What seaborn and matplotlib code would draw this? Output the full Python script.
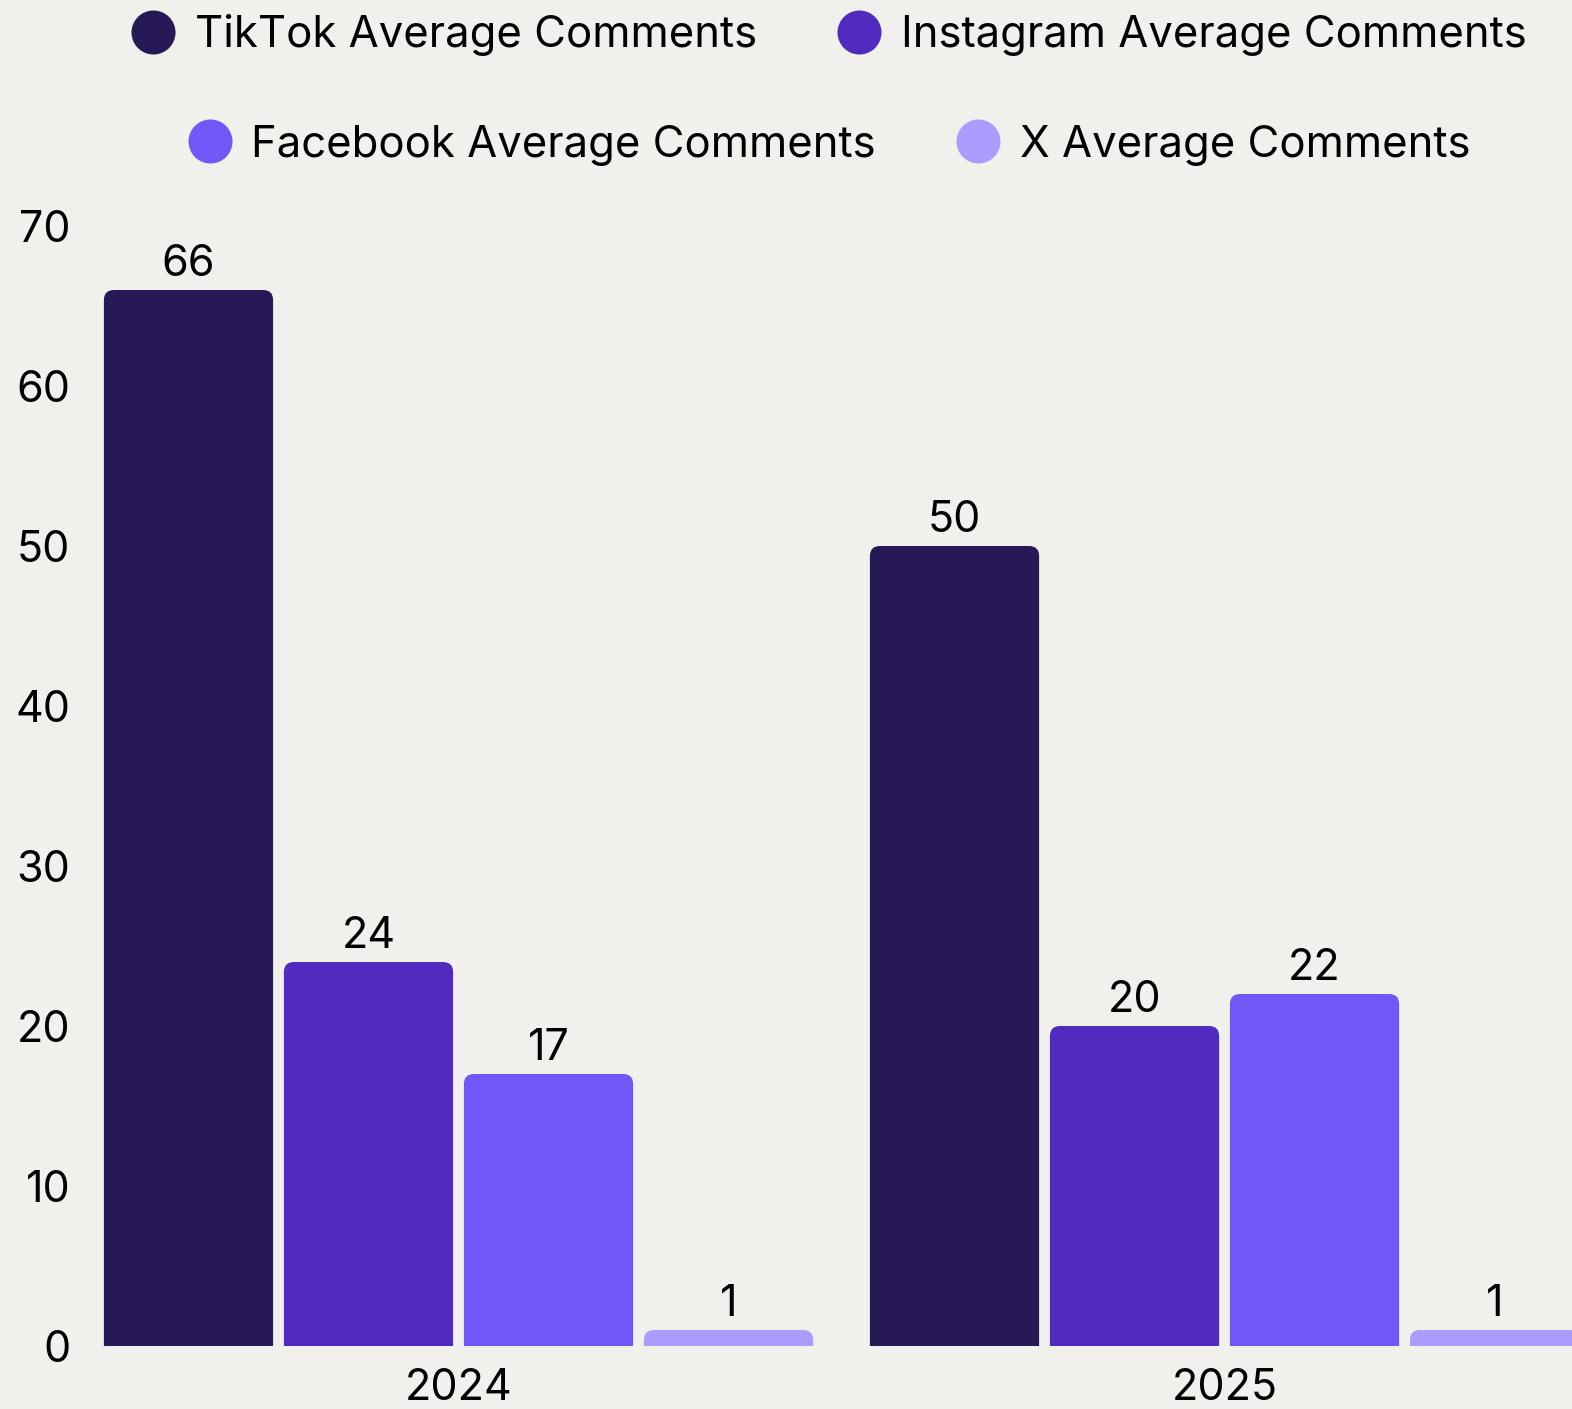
import matplotlib
matplotlib.use("Agg")
import matplotlib.pyplot as plt
import seaborn as sns
import pandas as pd
from matplotlib.path import Path
from matplotlib.patches import PathPatch
from matplotlib.lines import Line2D

# ---- data ----
years = ["2024", "2025"]
series = ["TikTok Average Comments", "Instagram Average Comments",
          "Facebook Average Comments", "X Average Comments"]
tiktok = [66, 50]
instagram = [24, 20]
facebook = [17, 22]
x_comments = [1, 1]
colors = ["#271856", "#512BBF", "#6F58F7", "#AA9BFD"]
yticks = [0, 10, 20, 30, 40, 50, 60, 70]

rows = []
for name, vals in zip(series, [tiktok, instagram, facebook, x_comments]):
    for yr, v in zip(years, vals):
        rows.append({"Year": yr, "Series": name, "Value": v})
df = pd.DataFrame(rows)

sns.set_theme(style="white")
plt.rcParams["font.family"] = ["Inter", "DejaVu Sans"]
plt.rcParams["text.color"] = "black"
BG = "#F1F0ED"
FS = 31

W, H = 1572, 1409
fig = plt.figure(figsize=(W / 100, H / 100), dpi=100, facecolor=BG)
ax = fig.add_axes([105 / W, 63 / H, (W - 105) / W, (1346 - 226) / H])
ax.set_facecolor(BG)

sns.barplot(data=df, x="Year", y="Value", hue="Series", hue_order=series,
            palette=colors, width=0.94, gap=0.06, ax=ax, legend=False,
            saturation=1, errorbar=None)

ax.set_xlim(-0.4615, 1.4536)
ax.set_ylim(0, 70)
ax.set_yticks(yticks)
ax.set_xlabel("")
ax.set_ylabel("")
for s in ax.spines.values():
    s.set_visible(False)
ax.tick_params(axis="y", length=0, pad=25, labelsize=FS, labelcolor="black")
ax.tick_params(axis="x", length=0, pad=16, labelsize=FS, labelcolor="black")

# rounded-top bars replacing the seaborn rectangles
fig.canvas.draw()
inv = ax.transData.inverted()
p0 = inv.transform((0, 0))
p1 = inv.transform((10, 10))
rx, ry_full = abs(p1[0] - p0[0]), abs(p1[1] - p0[1])

for cont, col in zip(ax.containers, colors):
    for rect in cont.patches:
        x0 = rect.get_x()
        w = rect.get_width()
        h = rect.get_height()
        x1 = x0 + w
        ry = min(ry_full, h)
        verts = [(x0, 0), (x0, h - ry), (x0, h), (x0 + rx, h),
                 (x1 - rx, h), (x1, h), (x1, h - ry), (x1, 0), (x0, 0)]
        codes = [Path.MOVETO, Path.LINETO, Path.CURVE3, Path.CURVE3,
                 Path.LINETO, Path.CURVE3, Path.CURVE3, Path.LINETO,
                 Path.CLOSEPOLY]
        ax.add_patch(PathPatch(Path(verts, codes), facecolor=col,
                               edgecolor="none", clip_on=False))
        rect.set_visible(False)
    ax.bar_label(cont, fmt="%d", padding=3.3, fontsize=FS, color="black")

# legend in two centred rows
def handle(c):
    return Line2D([], [], marker="o", linestyle="", markersize=31.7,
                  markerfacecolor=c, markeredgewidth=0)

common = dict(loc="center", ncol=2, frameon=False, fontsize=31.4,
              handlelength=1.0, handletextpad=0.45, columnspacing=1.85,
              borderpad=0, borderaxespad=0, labelcolor="black")
leg1 = fig.legend([handle(colors[0]), handle(colors[1])], series[:2],
                  bbox_to_anchor=(829 / W, 1 - 35 / H), **common)
leg2 = fig.legend([handle(colors[2]), handle(colors[3])], series[2:],
                  bbox_to_anchor=(829 / W, 1 - 145 / H), **common)

fig.savefig("out.png", dpi=100, facecolor=BG)
